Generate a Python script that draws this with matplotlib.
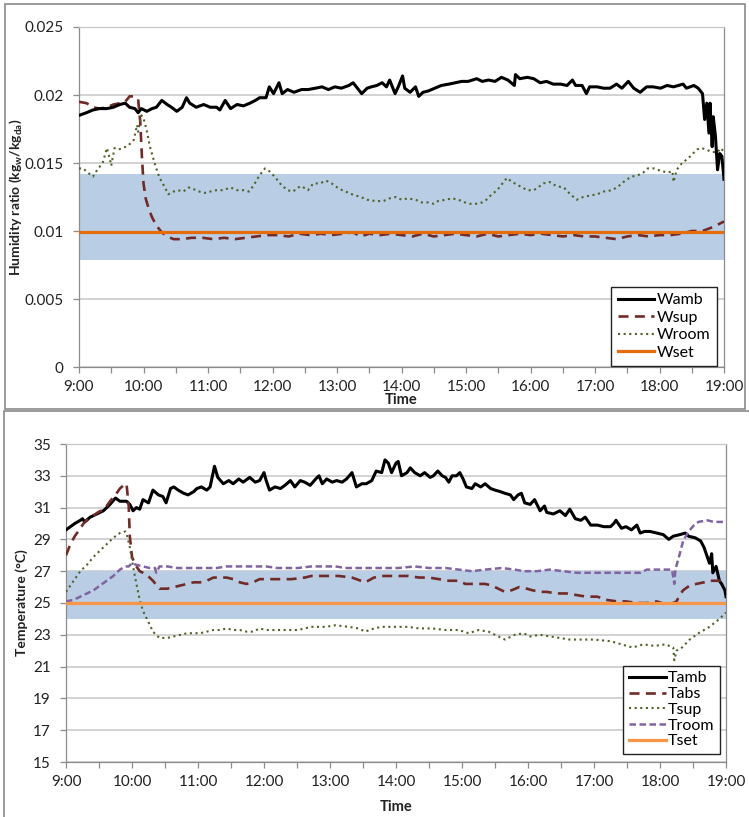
import matplotlib
matplotlib.use('Agg')
import matplotlib.pyplot as plt
from matplotlib.patches import Rectangle

plt.rcParams['font.family'] = ['Lato', 'DejaVu Sans']
plt.rcParams['mathtext.fontset'] = 'custom'
plt.rcParams['mathtext.rm'] = 'Lato'
plt.rcParams['mathtext.bf'] = 'Lato:bold'
plt.rcParams['mathtext.it'] = 'Lato:italic'

# ---------------- data (minutes after 9:00) ----------------
hour_labels = ["9:00", "10:00", "11:00", "12:00", "13:00", "14:00",
               "15:00", "16:00", "17:00", "18:00", "19:00"]

t_wamb = [0, 7, 13, 19, 26, 32, 38, 43, 47, 52, 55, 58, 63, 68, 72, 77, 82, 86, 91, 96,
          100, 103, 109, 116, 122, 128, 131, 136, 141, 147, 153, 159, 164, 168, 174, 177,
          181, 186, 189, 194, 200, 207, 213, 220, 226, 232, 238, 244, 251, 255, 258, 263,
          268, 272, 277, 282, 286, 289, 294, 297, 301, 303, 308, 313, 316, 320, 325, 331,
          337, 344, 350, 356, 362, 370, 375, 381, 387, 393, 399, 405, 406, 410, 417, 423,
          429, 435, 441, 448, 454, 459, 462, 468, 472, 475, 482, 488, 494, 500, 505, 511,
          516, 522, 528, 534, 541, 547, 553, 562, 565, 572, 576, 580, 582, 584, 586, 587,
          589, 590, 592, 594, 596, 598, 600]
w_amb = [0.0185, 0.0187, 0.0189, 0.0190, 0.0190, 0.0191, 0.0193, 0.0194, 0.0191, 0.0190,
         0.0187, 0.0190, 0.0188, 0.0190, 0.0191, 0.0196, 0.0193, 0.0191, 0.0188, 0.0191,
         0.0198, 0.0194, 0.0191, 0.0193, 0.0191, 0.0191, 0.0189, 0.0196, 0.0190, 0.0193,
         0.0192, 0.0194, 0.0196, 0.0198, 0.0198, 0.0206, 0.0201, 0.0209, 0.0201, 0.0204,
         0.0202, 0.0204, 0.0204, 0.0205, 0.0206, 0.0204, 0.0206, 0.0205, 0.0207, 0.0209,
         0.0206, 0.0201, 0.0205, 0.0206, 0.0207, 0.0209, 0.0206, 0.0211, 0.0201, 0.0206,
         0.0214, 0.0205, 0.0202, 0.0206, 0.0199, 0.0202, 0.0203, 0.0205, 0.0207, 0.0208,
         0.0209, 0.0210, 0.0210, 0.0212, 0.0210, 0.0211, 0.0210, 0.0213, 0.0211, 0.0207,
         0.0215, 0.0212, 0.0213, 0.0212, 0.0209, 0.0210, 0.0208, 0.0208, 0.0207, 0.0211,
         0.0207, 0.0207, 0.0201, 0.0206, 0.0206, 0.0205, 0.0205, 0.0208, 0.0205, 0.0210,
         0.0205, 0.0202, 0.0206, 0.0206, 0.0205, 0.0207, 0.0206, 0.0208, 0.0205, 0.0207,
         0.0205, 0.0201, 0.0182, 0.0194, 0.0172, 0.0194, 0.0162, 0.0184, 0.0170, 0.0145,
         0.0157, 0.0155, 0.0138]

t_wsup = [0, 7, 13, 19, 26, 32, 38, 43, 47, 52, 55, 57, 58.5, 60, 62, 65, 68, 72, 77, 82,
          88, 95, 105, 115, 125, 135, 145, 155, 165, 175, 185, 195, 205, 215, 225, 235,
          245, 255, 262, 270, 280, 290, 300, 310, 320, 330, 340, 350, 360, 370, 380, 390,
          400, 410, 420, 430, 440, 450, 460, 470, 480, 490, 500, 510, 520, 530, 540, 550,
          560, 570, 580, 590, 600]
w_sup = [0.0195, 0.0194, 0.0191, 0.0190, 0.0191, 0.0193, 0.0194, 0.0195, 0.0199, 0.0199,
         0.0197, 0.0180, 0.0155, 0.0135, 0.0124, 0.0116, 0.0110, 0.0104, 0.0099, 0.0096,
         0.0094, 0.0094, 0.0095, 0.0095, 0.0094, 0.0095, 0.0094, 0.0095, 0.0096, 0.0097,
         0.0097, 0.0096, 0.0098, 0.0097, 0.0098, 0.0097, 0.0098, 0.0099, 0.0096, 0.0098,
         0.0097, 0.0098, 0.0097, 0.0096, 0.0098, 0.0096, 0.0097, 0.0098, 0.0097, 0.0096,
         0.0098, 0.0096, 0.0097, 0.0098, 0.0097, 0.0098, 0.0097, 0.0096, 0.0097, 0.0096,
         0.0096, 0.0095, 0.0094, 0.0096, 0.0097, 0.0096, 0.0097, 0.0097, 0.0098, 0.0100,
         0.0100, 0.0103, 0.0107]

t_wroom = [0, 4, 8, 13, 17, 22, 26, 29, 30, 33, 37, 41, 46, 51, 54, 55, 58, 60, 63, 66,
           71, 75, 80, 83, 88, 92, 97, 102, 106, 112, 117, 122, 128, 134, 141, 147, 153,
           158, 162, 168, 173, 177, 182, 188, 194, 199, 204, 207, 213, 218, 224, 230, 235,
           242, 248, 254, 262, 268, 276, 283, 289, 295, 300, 306, 313, 319, 325, 330, 334,
           341, 347, 353, 359, 364, 369, 375, 379, 384, 389, 394, 398, 403, 410, 417, 423,
           427, 432, 438, 444, 451, 457, 463, 469, 475, 482, 488, 496, 502, 508, 514, 520,
           525, 529, 535, 542, 548, 552, 553, 556, 561, 566, 570, 575, 579, 583, 589, 594,
           597, 600]
w_room = [0.0146, 0.0146, 0.0143, 0.0140, 0.0145, 0.0150, 0.0161, 0.0152, 0.0148, 0.0161,
          0.0160, 0.0161, 0.0163, 0.0167, 0.0178, 0.0173, 0.0185, 0.0183, 0.0174, 0.0162,
          0.0148, 0.0139, 0.0132, 0.0127, 0.0129, 0.0130, 0.0129, 0.0132, 0.0131, 0.0129,
          0.0128, 0.0129, 0.0130, 0.0130, 0.0132, 0.0130, 0.0130, 0.0129, 0.0133, 0.0141,
          0.0146, 0.0144, 0.0140, 0.0134, 0.0130, 0.0129, 0.0132, 0.0133, 0.0130, 0.0135,
          0.0135, 0.0137, 0.0135, 0.0131, 0.0129, 0.0127, 0.0125, 0.0123, 0.0122, 0.0122,
          0.0124, 0.0125, 0.0123, 0.0124, 0.0123, 0.0121, 0.0121, 0.0120, 0.0122, 0.0123,
          0.0124, 0.0123, 0.0121, 0.0120, 0.0120, 0.0121, 0.0123, 0.0127, 0.0130, 0.0135,
          0.0139, 0.0136, 0.0133, 0.0130, 0.0130, 0.0132, 0.0135, 0.0136, 0.0133, 0.0132,
          0.0127, 0.0123, 0.0125, 0.0126, 0.0127, 0.0129, 0.0130, 0.0133, 0.0137, 0.0140,
          0.0141, 0.0143, 0.0146, 0.0146, 0.0144, 0.0143, 0.0144, 0.0136, 0.0145, 0.0150,
          0.0153, 0.0156, 0.0160, 0.0161, 0.0160, 0.0158, 0.0158, 0.0161, 0.0158]

w_set = 0.0099
w_band = [0.0079, 0.0142]

t_tamb = [0, 4, 8, 13, 15, 17, 22, 28, 34, 40, 45, 49, 55, 58, 61, 64, 67, 70, 75, 79, 84,
          88, 91, 95, 98, 102, 107, 111, 116, 119, 123, 128, 131, 135, 138, 143, 148, 152,
          157, 161, 167, 172, 176, 180, 182, 185, 190, 195, 199, 204, 208, 213, 217, 222,
          227, 230, 233, 237, 242, 246, 251, 255, 260, 264, 269, 273, 278, 282, 287, 290,
          293, 296, 300, 302, 305, 310, 313, 317, 322, 326, 331, 334, 338, 342, 345, 348,
          351, 355, 358, 361, 364, 369, 372, 377, 381, 386, 390, 395, 399, 404, 407, 411,
          414, 417, 422, 426, 431, 435, 437, 443, 449, 454, 458, 463, 468, 472, 477, 483,
          489, 495, 498, 500, 505, 509, 514, 519, 522, 526, 531, 537, 543, 548, 552, 558,
          563, 566, 572, 577, 580, 583, 585, 587, 588, 591, 594, 596, 599, 600]
t_amb = [29.6, 29.8, 30.0, 30.2, 30.3, 30.1, 30.4, 30.6, 30.8, 31.2, 31.6, 31.4, 31.4, 31.2,
         30.8, 31.0, 30.9, 31.5, 31.3, 32.1, 31.8, 31.7, 31.3, 32.2, 32.3, 32.1, 31.9, 31.8,
         32.0, 32.2, 32.3, 32.1, 32.3, 33.6, 32.9, 32.5, 32.7, 32.5, 32.8, 32.6, 32.9, 32.6,
         32.7, 33.2, 32.7, 32.1, 32.3, 32.2, 32.4, 32.7, 32.3, 32.7, 32.6, 32.4, 32.8, 33.0,
         32.5, 32.8, 32.6, 32.7, 32.6, 32.8, 33.2, 32.3, 32.5, 32.5, 32.7, 33.3, 33.2, 34.0,
         33.8, 33.2, 33.8, 33.9, 33.0, 33.2, 33.5, 33.2, 33.0, 33.2, 32.9, 33.0, 33.3, 33.0,
         32.9, 32.6, 33.0, 33.0, 33.2, 32.8, 32.3, 32.2, 32.5, 32.3, 32.5, 32.2, 32.1, 32.0,
         31.9, 31.8, 31.5, 31.8, 31.9, 31.3, 31.2, 31.5, 30.8, 31.1, 30.7, 30.6, 30.8, 30.5,
         30.9, 30.3, 30.2, 30.4, 29.9, 29.9, 29.8, 29.8, 30.0, 30.2, 29.7, 29.8, 29.6, 29.9,
         29.4, 29.5, 29.5, 29.4, 29.3, 29.0, 29.2, 29.3, 29.4, 29.2, 29.1, 28.9, 28.5, 27.9,
         27.5, 28.1, 26.9, 27.3, 26.4, 26.2, 25.8, 25.4]

t_tabs = [0, 4, 8, 13, 17, 23, 29, 35, 40, 45, 49, 54, 55, 57, 58, 60, 63, 67, 73, 79, 85,
          92, 98, 104, 110, 116, 122, 128, 134, 140, 146, 152, 158, 164, 170, 176, 182, 188,
          195, 205, 217, 223, 230, 239, 248, 260, 268, 272, 280, 287, 296, 302, 311, 321,
          330, 339, 348, 357, 363, 372, 381, 387, 393, 399, 405, 412, 419, 424, 431, 437,
          446, 455, 464, 473, 483, 491, 501, 509, 519, 528, 537, 546, 552, 555, 558, 561,
          567, 573, 580, 585, 591, 600]
t_abs = [28.0, 28.7, 29.2, 29.7, 30.1, 30.4, 30.7, 30.9, 31.4, 31.8, 32.2, 32.5, 32.5, 31.1,
         29.2, 27.9, 27.4, 27.0, 26.8, 26.4, 25.9, 25.9, 26.0, 26.1, 26.2, 26.3, 26.3, 26.4,
         26.6, 26.6, 26.6, 26.5, 26.3, 26.2, 26.3, 26.5, 26.5, 26.5, 26.5, 26.5, 26.6, 26.7,
         26.7, 26.7, 26.7, 26.6, 26.4, 26.3, 26.6, 26.7, 26.7, 26.7, 26.7, 26.6, 26.6, 26.5,
         26.4, 26.4, 26.2, 26.2, 26.2, 26.1, 25.9, 25.7, 25.8, 26.0, 25.9, 25.8, 25.7, 25.7,
         25.6, 25.6, 25.5, 25.4, 25.4, 25.2, 25.1, 25.1, 25.0, 25.0, 25.1, 24.9, 25.0, 25.1,
         25.5, 25.8, 26.1, 26.2, 26.3, 26.4, 26.4, 26.4]

t_tsup = [0, 7, 13, 19, 25, 31, 37, 43, 49, 54, 55, 58, 61, 64, 67, 70, 75, 79, 85, 92, 98,
          104, 110, 116, 122, 128, 134, 140, 146, 152, 158, 164, 170, 176, 182, 188, 195,
          204, 211, 223, 236, 245, 257, 266, 272, 280, 287, 299, 311, 321, 333, 345, 357,
          366, 375, 384, 393, 399, 408, 416, 422, 431, 440, 449, 458, 470, 480, 495, 505,
          515, 525, 535, 545, 552, 553, 555, 560, 567, 575, 585, 594, 600]
t_sup = [25.7, 26.4, 27.0, 27.4, 27.9, 28.3, 28.7, 29.1, 29.4, 29.5, 29.4, 28.5, 27.3, 26.2,
         25.2, 24.5, 23.8, 23.2, 22.8, 22.8, 22.9, 23.0, 23.1, 23.1, 23.1, 23.2, 23.3, 23.3,
         23.4, 23.3, 23.3, 23.2, 23.2, 23.4, 23.3, 23.3, 23.3, 23.3, 23.3, 23.5, 23.5, 23.6,
         23.5, 23.4, 23.2, 23.4, 23.5, 23.5, 23.5, 23.4, 23.4, 23.3, 23.3, 23.1, 23.3, 23.2,
         22.9, 22.7, 23.0, 23.1, 22.9, 23.0, 22.9, 22.8, 22.7, 22.7, 22.7, 22.6, 22.4, 22.2,
         22.4, 22.3, 22.4, 22.2, 21.4, 22.0, 22.2, 22.7, 23.1, 23.5, 24.0, 24.4]

t_troom = [0, 7, 13, 19, 25, 31, 37, 43, 49, 54, 57, 60, 64, 70, 76, 81, 82, 85, 92, 101,
           110, 119, 128, 137, 146, 155, 164, 173, 182, 192, 204, 211, 223, 236, 245, 254,
           266, 278, 290, 302, 317, 330, 345, 357, 369, 381, 396, 408, 416, 428, 440, 452,
           464, 476, 489, 501, 513, 522, 528, 537, 546, 551, 553, 554, 558, 561, 566, 571,
           575, 583, 589, 594, 600]
t_room = [25.1, 25.2, 25.4, 25.6, 25.8, 26.1, 26.4, 26.7, 27.1, 27.3, 27.3, 27.5, 27.4, 27.3,
          27.2, 27.2, 26.9, 27.3, 27.3, 27.2, 27.2, 27.2, 27.2, 27.2, 27.3, 27.3, 27.3, 27.3,
          27.3, 27.2, 27.2, 27.2, 27.3, 27.3, 27.3, 27.2, 27.2, 27.2, 27.2, 27.2, 27.3, 27.2,
          27.2, 27.1, 27.0, 27.1, 27.2, 27.1, 27.0, 27.0, 27.1, 27.0, 26.9, 26.9, 26.9, 26.9,
          26.9, 26.9, 27.1, 27.1, 27.1, 27.1, 26.2, 27.1, 28.1, 28.9, 29.5, 29.9, 30.1, 30.2,
          30.1, 30.1, 30.1]

t_set = 25.0
t_band = [24.0, 27.0]

w_ticks = [0, 0.005, 0.01, 0.015, 0.02, 0.025]
w_tick_labels = ["0", "0.005", "0.01", "0.015", "0.02", "0.025"]
temp_ticks = [15, 17, 19, 21, 23, 25, 27, 29, 31, 33, 35]

# ---------------- styles ----------------
C_AMB = '#000000'
C_SUP = '#722A28'
C_ROOM = '#4F6228'
C_WSET = '#E46C0A'
C_TSET = '#F79646'
C_TROOM = '#8064A2'
C_BAND = '#B9CDE5'
C_GRID = '#C6C6C6'
C_AXIS = '#8C8C8C'
C_TXT = '#222222'

fig = plt.figure(figsize=(7.49, 8.17), dpi=100)

# panel frames
fig.add_artist(Rectangle((5 / 749, 1 - 409 / 817), 740 / 749, 405 / 817,
                         transform=fig.transFigure, fill=False, edgecolor='#8A8A8A', lw=1.2))
fig.add_artist(Rectangle((4 / 749, -0.01), 1.0, 1 - 411 / 817 + 0.01,
                         transform=fig.transFigure, fill=False, edgecolor='#8A8A8A', lw=1.2))

ax1 = fig.add_axes([79 / 749, 1 - 367 / 817, 645 / 749, 340 / 817])
ax2 = fig.add_axes([66 / 749, 1 - 762 / 817, 660 / 749, 318 / 817])

xt = list(range(0, 601, 30))
xt_labels = [hour_labels[i // 2] if i % 2 == 0 else '' for i in range(len(xt))]


def style_axes(ax, yticks, ylabels, ylim):
    ax.set_xlim(0, 600)
    ax.set_ylim(*ylim)
    ax.set_xticks(xt)
    ax.set_xticklabels(xt_labels)
    ax.set_yticks(yticks)
    ax.set_yticklabels(ylabels)
    ax.grid(axis='y', color=C_GRID, lw=1.1, zorder=0)
    ax.set_axisbelow(True)
    for s in ax.spines.values():
        s.set_color(C_AXIS)
        s.set_linewidth(0.9)
    ax.spines['top'].set_color(C_GRID)
    ax.tick_params(axis='x', direction='out', length=4, width=0.9, color=C_AXIS,
                   labelsize=11, labelcolor=C_TXT, pad=5)
    ax.tick_params(axis='y', direction='out', length=4, width=0.9, color=C_AXIS,
                   labelsize=11, labelcolor=C_TXT, pad=7)


# ---------------- top: humidity ratio ----------------
style_axes(ax1, w_ticks, w_tick_labels, (0, 0.025))
ax1.axhspan(w_band[0], w_band[1], color=C_BAND, lw=0, zorder=1)
ax1.plot(t_wamb, w_amb, color=C_AMB, lw=2.2, zorder=5, label='Wamb')
ax1.plot(t_wsup, w_sup, color=C_SUP, lw=1.9, dashes=(3.8, 2.4), zorder=4, label='Wsup')
ax1.plot(t_wroom, w_room, color=C_ROOM, lw=1.5, dashes=(1, 1.7), zorder=4, label='Wroom')
ax1.axhline(w_set, color=C_WSET, lw=2.3, zorder=6, label='Wset')
ax1.set_xlabel('Time', fontsize=10.5, fontweight='bold', color=C_TXT)
ax1.xaxis.label.set_va('center')
ax1.xaxis.set_label_coords(0.5, -0.097)
ax1.set_ylabel(r'Humidity ratio (kg$_{\mathbf{w}}$/kg$_{\mathbf{da}}$)', fontsize=10,
               fontweight='bold', color=C_TXT)
ax1.yaxis.label.set_va('center')
ax1.yaxis.set_label_coords(-0.0977, 0.5)
leg1 = ax1.legend(loc='lower right', bbox_to_anchor=(0.989, 0.003), borderaxespad=0,
                  frameon=True, fancybox=False, edgecolor='#222222', framealpha=1,
                  fontsize=11.5, handlelength=2.3, handletextpad=0.15, labelspacing=0.2,
                  borderpad=0.4)
leg1.get_frame().set_linewidth(1.0)
leg1.set_zorder(10)

# ---------------- bottom: temperature ----------------
style_axes(ax2, temp_ticks, [str(v) for v in temp_ticks], (15, 35))
ax2.axhspan(t_band[0], t_band[1], color=C_BAND, lw=0, zorder=1)
ax2.plot(t_tamb, t_amb, color=C_AMB, lw=2.2, zorder=3, label='Tamb')
ax2.plot(t_tabs, t_abs, color=C_SUP, lw=1.9, dashes=(3.8, 2.4), zorder=4, label='Tabs')
ax2.plot(t_tsup, t_sup, color=C_ROOM, lw=1.5, dashes=(1, 1.7), zorder=4, label='Tsup')
ax2.plot(t_troom, t_room, color=C_TROOM, lw=1.8, dashes=(2.6, 1.4), zorder=4, label='Troom')
ax2.axhline(t_set, color=C_TSET, lw=2.3, zorder=6, label='Tset')
ax2.set_xlabel('Time', fontsize=10.5, fontweight='bold', color=C_TXT)
ax2.xaxis.label.set_va('center')
ax2.xaxis.set_label_coords(0.5, -0.1406)
ax2.set_ylabel('Temperature (°C)', fontsize=10, fontweight='bold', color=C_TXT)
ax2.yaxis.label.set_va('center')
ax2.yaxis.set_label_coords(-0.067, 0.5)
leg2 = ax2.legend(loc='lower right', bbox_to_anchor=(0.991, 0.025), borderaxespad=0,
                  frameon=True, fancybox=False, edgecolor='#222222', framealpha=1,
                  fontsize=11.5, handlelength=2.3, handletextpad=0.15, labelspacing=0.1,
                  borderpad=0.35)
leg2.get_frame().set_linewidth(1.0)
leg2.set_zorder(10)

fig.savefig('out.png', dpi=100)
